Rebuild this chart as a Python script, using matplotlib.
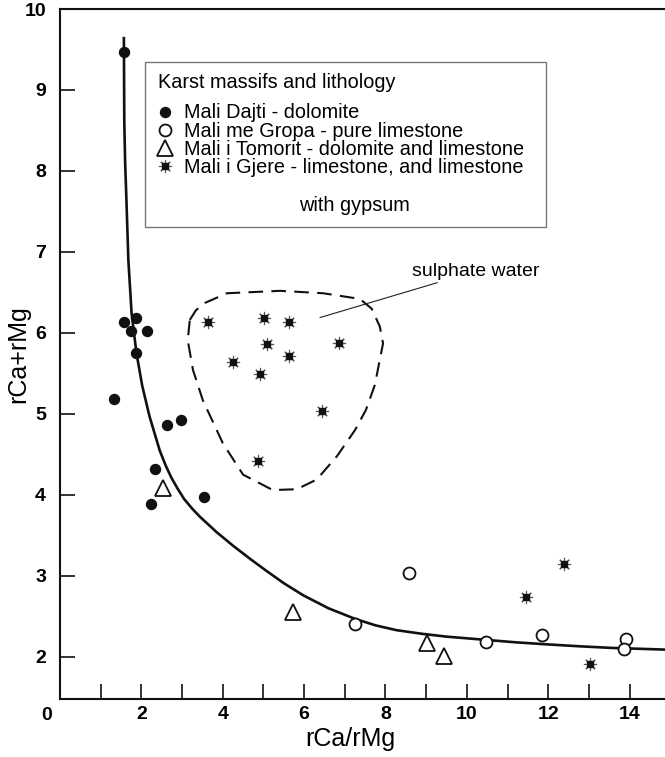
import matplotlib.pyplot as plt
from matplotlib.patches import Rectangle
from matplotlib.legend_handler import HandlerTuple

plt.rcParams['font.family'] = ['Liberation Sans', 'DejaVu Sans']

# Mali Dajti - dolomite
dajti_x = [1.58, 1.58, 1.88, 1.75, 2.15, 1.88, 1.33, 2.64, 2.97, 2.34, 2.24, 3.55]
dajti_y = [9.47, 6.13, 6.19, 6.02, 6.02, 5.75, 5.18, 4.86, 4.93, 4.32, 3.89, 3.97]

# Mali me Gropa - pure limestone
gropa_x = [8.57, 7.25, 10.47, 11.84, 13.92, 13.86]
gropa_y = [3.03, 2.41, 2.19, 2.27, 2.22, 2.10]

# Mali i Tomorit - dolomite and limestone
tomorit_x = [2.53, 5.73, 9.03, 9.44]
tomorit_y = [4.09, 2.56, 2.17, 2.01]

# Mali i Gjere - limestone, and limestone with gypsum
gjere_x = [3.63, 5.02, 5.63, 5.08, 6.86, 4.24, 5.63, 4.91, 6.44, 4.86, 11.45, 12.39, 13.02]
gjere_y = [6.13, 6.19, 6.13, 5.86, 5.87, 5.64, 5.71, 5.49, 5.04, 4.42, 2.74, 3.15, 1.91]

# fitted curve
curve_x = [1.57, 1.58, 1.60, 1.63, 1.68, 1.76, 1.88, 2.02, 2.20, 2.45, 2.60, 2.74, 2.90,
           3.05, 3.25, 3.44, 3.85, 4.26, 4.70, 5.08, 5.50, 5.98, 6.60, 7.25, 7.75, 8.27,
           8.90, 9.50, 10.47, 11.20, 11.96, 12.80, 13.60, 14.87]
curve_y = [9.64, 8.62, 8.12, 7.68, 6.90, 6.24, 5.75, 5.35, 4.97, 4.55, 4.36, 4.21, 4.07,
           3.95, 3.83, 3.73, 3.54, 3.37, 3.20, 3.06, 2.91, 2.76, 2.60, 2.47, 2.39, 2.33,
           2.285, 2.25, 2.21, 2.18, 2.155, 2.13, 2.11, 2.09]

# sulphate water outline
sulph_x = [3.19, 3.34, 3.56, 4.10, 5.41, 6.47, 7.37, 7.66, 7.86, 7.94, 7.86, 7.74, 7.52,
           7.25, 6.81, 6.31, 5.82, 5.23, 4.50, 4.00, 3.51, 3.27, 3.14, 3.19]
sulph_y = [6.16, 6.28, 6.37, 6.49, 6.52, 6.49, 6.42, 6.30, 6.08, 5.87, 5.67, 5.36, 5.05,
           4.80, 4.48, 4.19, 4.07, 4.06, 4.25, 4.64, 5.17, 5.54, 5.91, 6.16]

labels = ['Mali Dajti - dolomite', 'Mali me Gropa - pure limestone',
          'Mali i Tomorit - dolomite and limestone', 'Mali i Gjere - limestone, and limestone']

W, H = 665, 757
fig = plt.figure(figsize=(W / 100, H / 100), dpi=100)
ax = fig.add_axes([60 / W, 58 / H, 605 / W, 690 / H])


def px(x, y):
    # pixel position in the picture -> axes fraction
    return (x - 60) / 605, (699 - y) / 690


ax.plot(curve_x, curve_y, color='#111111', lw=1.9, zorder=2)
ax.plot(sulph_x, sulph_y, color='#111111', lw=1.5, dashes=(7, 4), zorder=2)

h1, = ax.plot(dajti_x, dajti_y, 'o', color='#111111', ms=7.2, ls='none', zorder=3)
h2, = ax.plot(gropa_x, gropa_y, 'o', mfc='white', mec='#111111', mew=1.3, ms=8.6, ls='none', zorder=3)
h3, = ax.plot(tomorit_x, tomorit_y, '^', mfc='white', mec='#111111', mew=1.3, ms=12, ls='none', zorder=3)
h4a, = ax.plot(gjere_x, gjere_y, marker=(8, 2, 0), color='#555555', mew=0.8, ms=9.5, ls='none', zorder=3)
h4b, = ax.plot(gjere_x, gjere_y, 's', color='#111111', ms=4.2, ls='none', zorder=4)

# annotation for the sulphate field
ax.annotate('sulphate water', xy=(6.39, 6.19), xytext=(8.64, 6.76), fontsize=14,
            va='center', ha='left',
            arrowprops=dict(arrowstyle='-', color='#222222', lw=0.8, shrinkA=0, shrinkB=0))

# legend box, title and entries
ax.add_patch(Rectangle(px(145, 227), 401 / 605, 165 / 690, transform=ax.transAxes,
                       fill=False, ec='#777777', lw=1.0, zorder=5))
ax.text(*px(158, 87.5), 'Karst massifs and lithology', transform=ax.transAxes,
        fontsize=14.3, va='baseline', ha='left')
leg = ax.legend([h1, h2, h3, (h4a, h4b)], labels, loc='upper left',
                bbox_to_anchor=px(158, 103.5), borderaxespad=0, borderpad=0,
                frameon=False, fontsize=14.3, handlelength=0.7, handletextpad=0.62,
                labelspacing=-0.04, handler_map={tuple: HandlerTuple(ndivide=1, pad=0)})
ax.text(*px(354, 211), 'with gypsum', transform=ax.transAxes, fontsize=14.3,
        va='baseline', ha='center')

ax.set_xlim(0, 14.87)
ax.set_ylim(1.48, 10)
ax.set_xticks([2, 4, 6, 8, 10, 12, 14])
ax.set_xticks([1, 3, 5, 7, 9, 11, 13], minor=True)
ax.set_yticks([2, 3, 4, 5, 6, 7, 8, 9, 10])
ax.tick_params(axis='both', which='both', direction='in', length=10.5, width=1.2,
               color='#111111')
ax.tick_params(axis='x', which='major', labelsize=14, pad=5)
ax.tick_params(axis='y', which='major', labelsize=14, pad=10)
ax.tick_params(axis='x', which='minor', labelbottom=False)
for t in ax.get_xticklabels() + ax.get_yticklabels():
    t.set_fontweight('bold')
ax.yaxis.get_major_ticks()[-1].tick1line.set_visible(False)
ax.annotate('0', xy=(0, 0), xycoords='axes fraction', xytext=(-13, -16),
            textcoords='offset pixels', ha='center', va='center', fontsize=14,
            fontweight='bold')

ax.spines['right'].set_visible(False)
for s in ['left', 'bottom', 'top']:
    ax.spines[s].set_linewidth(1.5)
    ax.spines[s].set_color('#111111')

ax.set_xlabel('rCa/rMg', fontsize=18, va='center')
ax.set_ylabel('rCa+rMg', fontsize=18, va='center')
ax.xaxis.set_label_coords(px(350, 0)[0], px(0, 739)[1])
ax.yaxis.set_label_coords(px(18, 0)[0], 0.5)

fig.savefig('out.png', dpi=100)
